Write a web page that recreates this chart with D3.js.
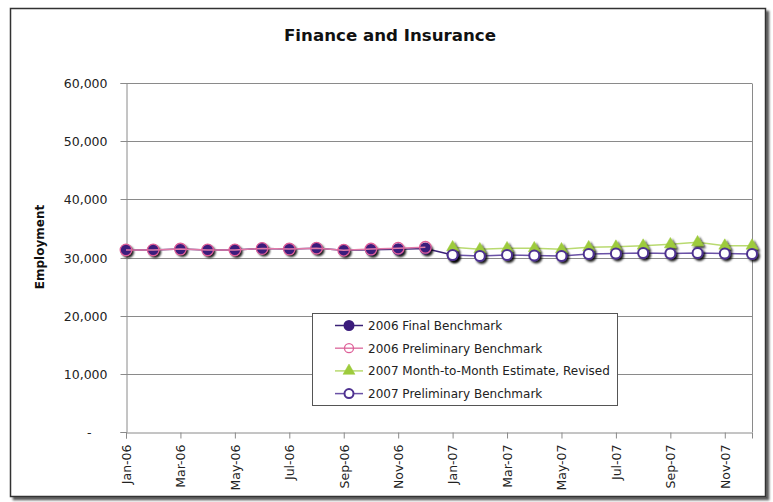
<!DOCTYPE html>
<html>
<head>
<meta charset="utf-8">
<script src="https://cdn.jsdelivr.net/npm/d3@7"></script>
<style>
  html, body { margin: 0; padding: 0; background: #fff; }
  svg { display: block; font-family: "DejaVu Sans", Verdana, sans-serif; }
</style>
</head>
<body>
<svg id="chart" width="773" height="502"></svg>
<script>
// Monthly employment, Finance and Insurance
const months = ["Jan-06","Feb-06","Mar-06","Apr-06","May-06","Jun-06","Jul-06","Aug-06","Sep-06","Oct-06","Nov-06","Dec-06",
                "Jan-07","Feb-07","Mar-07","Apr-07","May-07","Jun-07","Jul-07","Aug-07","Sep-07","Oct-07","Nov-07","Dec-07"];
const monthLabels = ["Jan-06","Mar-06","May-06","Jul-06","Sep-06","Nov-06","Jan-07","Mar-07","May-07","Jul-07","Sep-07","Nov-07"];
const yTicks = [0, 10000, 20000, 30000, 40000, 50000, 60000];

const final2006 = [31300, 31300, 31450, 31300, 31300, 31550, 31450, 31600, 31250, 31350, 31400, 31550,
                   30430, null, null, null, null, null, null, null, null, null, null, null];
const prelim2006 = [31300, 31300, 31450, 31300, 31300, 31550, 31450, 31600, 31250, 31450, 31600, 31750,
                    null, null, null, null, null, null, null, null, null, null, null, null];
const monthToMonth2007 = [null, null, null, null, null, null, null, null, null, null, null, null,
                          31750, 31400, 31580, 31580, 31400, 31750, 31860, 32030, 32270, 32610, 32030, 32030];
const prelim2007 = [null, null, null, null, null, null, null, null, null, null, null, null,
                    30430, 30260, 30430, 30350, 30260, 30600, 30690, 30770, 30690, 30770, 30690, 30600];

const seriesNames = ["2006 Final Benchmark", "2006 Preliminary Benchmark",
                     "2007 Month-to-Month Estimate, Revised", "2007 Preliminary Benchmark"];

const series = [
  { name: seriesNames[0], values: final2006, line: "#3a2176", shape: "circle", fill: "#3b1c7c", stroke: "#3b1c7c" },
  { name: seriesNames[1], values: prelim2006, line: "#e07aa8", shape: "circle", fill: "none", stroke: "#de5f98" },
  { name: seriesNames[2], values: monthToMonth2007, line: "#b9da70", shape: "triangle", fill: "#9dcb3c", stroke: "#9dcb3c" },
  { name: seriesNames[3], values: prelim2007, line: "#6a51a6", shape: "circle", fill: "#ffffff", stroke: "#4e3190" }
];

const plot = { left: 126, right: 752, top: 83, bottom: 432 };

const svg = d3.select("#chart");

const defs = svg.append("defs");
const shadow = defs.append("filter").attr("id", "mshadow")
  .attr("x", "-50%").attr("y", "-50%").attr("width", "200%").attr("height", "200%");
shadow.append("feDropShadow").attr("dx", 2).attr("dy", 2).attr("stdDeviation", 0.8)
  .attr("flood-color", "#000").attr("flood-opacity", 0.9);
const boxShadow = defs.append("filter").attr("id", "bshadow")
  .attr("x", "-5%").attr("y", "-5%").attr("width", "110%").attr("height", "110%");
boxShadow.append("feDropShadow").attr("dx", 3).attr("dy", 3).attr("stdDeviation", 1)
  .attr("flood-color", "#000").attr("flood-opacity", 0.65);

// Outer chart frame
svg.append("rect")
  .attr("x", 10.5).attr("y", 8.5).attr("width", 755).attr("height", 488)
  .attr("fill", "#fff").attr("stroke", "#333").attr("stroke-width", 1.5)
  .attr("filter", "url(#bshadow)");

// Title
svg.append("text")
  .attr("x", 390).attr("y", 41)
  .attr("text-anchor", "middle")
  .attr("font-size", 16).attr("font-weight", "bold")
  .attr("textLength", 212).attr("lengthAdjust", "spacingAndGlyphs")
  .attr("fill", "#111")
  .text("Finance and Insurance");

const x = d3.scalePoint().domain(months).range([plot.left, plot.right]);
const y = d3.scaleLinear().domain([0, 60000]).range([plot.bottom, plot.top]);

// Gridlines
svg.append("g")
  .selectAll("line")
  .data(yTicks.filter(d => d > 0))
  .join("line")
  .attr("x1", plot.left).attr("x2", plot.right)
  .attr("y1", d => Math.round(y(d)) + 0.5).attr("y2", d => Math.round(y(d)) + 0.5)
  .attr("stroke", "#8a8a8a").attr("stroke-width", 1);

// Right border of plot area
svg.append("line")
  .attr("x1", plot.right + 0.5).attr("x2", plot.right + 0.5)
  .attr("y1", Math.round(y(60000)) + 0.5).attr("y2", plot.bottom + 0.5)
  .attr("stroke", "#8a8a8a");

// Y axis
const yFmt = d => d === 0 ? "-" : d3.format(",")(d);
const yAxis = svg.append("g")
  .attr("transform", `translate(${plot.left + 0.5},0)`)
  .call(d3.axisLeft(y).tickValues(yTicks).tickFormat(yFmt).tickSize(6).tickPadding(13))
  .call(g => g.select(".domain").attr("stroke", "#8a8a8a"))
  .call(g => g.selectAll(".tick line").attr("stroke", "#8a8a8a"))
  .call(g => g.selectAll(".tick text").attr("font-size", 12.5).attr("fill", "#222")
      .attr("font-family", "DejaVu Sans, sans-serif"));
yAxis.selectAll(".tick text").filter(d => d === 0).attr("dx", -16);
yAxis.selectAll(".tick").attr("transform", d => `translate(0,${Math.round(y(d)) + 0.5})`);

// X axis
svg.append("g")
  .attr("transform", `translate(0,${plot.bottom + 0.5})`)
  .call(d3.axisBottom(x).tickValues(monthLabels).tickSize(6).tickPadding(0))
  .call(g => g.select(".domain").attr("stroke", "#8a8a8a"))
  .call(g => g.selectAll(".tick line").attr("stroke", "#8a8a8a"))
  .call(g => g.selectAll(".tick text")
      .attr("font-size", 12.5).attr("fill", "#222")
      .attr("font-family", "DejaVu Sans, sans-serif")
      .attr("transform", "rotate(-90)")
      .attr("text-anchor", "end")
      .attr("x", -12).attr("y", 0).attr("dy", "0.35em"));

// Y axis title
svg.append("text")
  .attr("transform", `translate(44,247) rotate(-90)`)
  .attr("text-anchor", "middle")
  .attr("font-size", 12).attr("font-weight", "bold")
  .attr("fill", "#111")
  .text("Employment");

// Series
const lineGen = d3.line()
  .defined(d => d.v !== null)
  .x(d => x(d.m)).y(d => y(d.v));

const tri = d3.symbol().type(d3.symbolTriangle).size(62);

function drawMarker(sel, s, r) {
  if (s.shape === "triangle") {
    sel.append("path").attr("d", tri())
      .attr("fill", s.fill).attr("stroke", s.stroke).attr("stroke-width", 0.5);
  } else {
    sel.append("circle").attr("r", r)
      .attr("fill", s.fill).attr("stroke", s.stroke)
      .attr("stroke-width", s.fill === "none" ? 1.3 : 2);
  }
}

series.forEach(s => {
  const pts = months.map((m, i) => ({ m, v: s.values[i] }));
  const g = svg.append("g");
  g.append("path")
    .attr("d", lineGen(pts))
    .attr("fill", "none").attr("stroke", s.line).attr("stroke-width", 1.5);
  const mk = g.append("g").attr("filter", s.fill === "none" ? null : "url(#mshadow)");
  pts.filter(d => d.v !== null).forEach(d => {
    const one = mk.append("g").attr("transform", `translate(${x(d.m)},${y(d.v)})`);
    drawMarker(one, s, s.fill === "none" ? 5.8 : 5);
  });
});

// Legend
const legend = { x: 312, y: 313, w: 305, h: 92 };
svg.append("rect")
  .attr("x", legend.x + 0.5).attr("y", legend.y + 0.5)
  .attr("width", legend.w).attr("height", legend.h)
  .attr("fill", "#fff").attr("stroke", "#555").attr("stroke-width", 1);

const items = svg.append("g").selectAll("g")
  .data(series)
  .join("g")
  .attr("transform", (d, i) => `translate(${legend.x + 23},${legend.y + 12.5 + i * 22.7})`);
items.append("line")
  .attr("x1", 0).attr("x2", 28)
  .attr("stroke", d => d.line).attr("stroke-width", 1.5);
items.each(function(d) {
  const one = d3.select(this).append("g").attr("transform", "translate(14,0)");
  drawMarker(one, d, 4.5);
});
items.append("text")
  .attr("x", 33).attr("dy", "0.36em")
  .attr("font-size", 12).attr("fill", "#222")
  .text(d => d.name);
</script>
</body>
</html>
